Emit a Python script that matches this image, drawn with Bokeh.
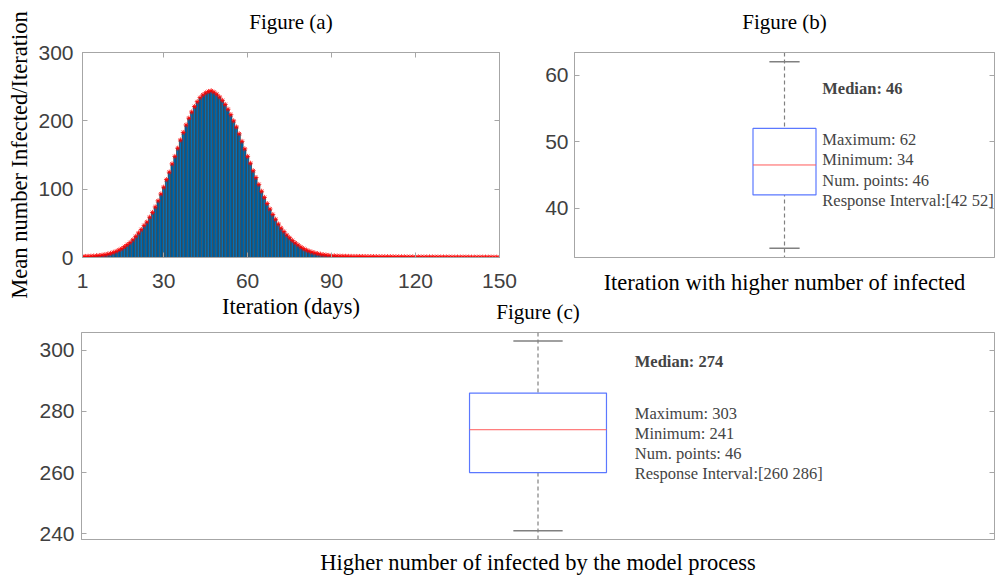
from bokeh.plotting import figure
from bokeh.layouts import column, row
from bokeh.models import (ColumnDataSource, Label, Span, LinearAxis, FixedTicker,
                          CustomJSTickFormatter, Range1d)
from bokeh.embed import file_html
from bokeh.resources import INLINE

# ---------------- data ----------------
days = list(range(1, 151))
mean_infected = [
    1.5, 1.6, 1.8, 2.0, 2.2, 2.6, 3.0, 3.5, 4.2, 5.0,
    6.0, 7.5, 9.0, 11, 13, 16, 19, 22, 26, 31,
    36, 41, 47, 52, 59, 66, 74, 83, 93, 103,
    114, 125, 137, 148, 160, 172, 183, 194, 204, 213,
    221, 228, 234, 238, 241, 243, 244, 242, 239, 235,
    230, 224, 217, 209, 200, 191, 181, 170, 159, 148,
    138, 127, 117, 107, 97, 88, 79, 71, 63, 56,
    49, 43, 38, 33, 29, 25, 21.5, 18.5, 15.5, 13,
    11, 9.3, 7.9, 6.7, 5.7, 4.9, 4.2, 3.6, 3.1, 2.7,
    2.4, 2.2, 2.0, 1.9, 1.8, 1.7, 1.7, 1.6, 1.6, 1.5,
    1.5, 1.5, 1.4, 1.4, 1.4, 1.3, 1.3, 1.3, 1.2, 1.2,
    1.2, 1.2, 1.1, 1.1, 1.1, 1.1, 1.0, 1.0, 1.0, 1.0,
    1.0, 0.9, 0.9, 0.9, 0.9, 0.9, 0.8, 0.8, 0.8, 0.8,
    0.8, 0.8, 0.7, 0.7, 0.7, 0.7, 0.7, 0.7, 0.7, 0.6,
    0.6, 0.6, 0.6, 0.6, 0.6, 0.6, 0.6, 0.5, 0.5, 0.5,
]
a_xticks = [1, 30, 60, 90, 120, 150]
a_yticks = [0, 100, 200, 300]

# Figure (b): iteration with the highest number infected
b_max, b_min, b_q1, b_q3 = 62, 34, 42, 52
b_median_line = 46.5
b_median_txt = 46
b_npoints = 46
b_yticks = [40, 50, 60]

# Figure (c): highest number of infected
c_max, c_min, c_q1, c_q3 = 303, 241, 260, 286
c_median_line = 274
c_median_txt = 274
c_npoints = 46
c_yticks = [240, 260, 280, 300]

SERIF = "Liberation Serif"
SANS = "Liberation Sans"
FRAME = "#a6a6a6"
TICKTXT = "#404040"
BOXBLUE = "#5b78ff"
MEDRED = "#ff5a5a"
WHISK = "#808080"

ROW_H = 329


def style_axes(p, tick_size="21px"):
    p.grid.grid_line_color = None
    p.outline_line_color = FRAME
    for ax in p.axis:
        ax.axis_line_color = FRAME
        ax.major_tick_line_color = FRAME
        ax.minor_tick_line_color = None
        ax.major_tick_in = 5
        ax.major_tick_out = 0
        ax.major_label_text_font = SANS
        ax.major_label_text_font_size = tick_size
        ax.major_label_text_color = TICKTXT
        ax.axis_label_text_font = SERIF
        ax.axis_label_text_font_size = "22.5px"
        ax.axis_label_text_font_style = "normal"
        ax.axis_label_text_color = "black"


def mirror(p, side, ticks, label=None):
    """Mirrored tick marks on the top/right edge (MATLAB box style);
    the top one also carries the panel caption."""
    ax = LinearAxis(ticker=FixedTicker(ticks=ticks),
                    formatter=CustomJSTickFormatter(code="return ''"))
    ax.axis_line_color = FRAME
    ax.major_tick_line_color = FRAME
    ax.minor_tick_line_color = None
    ax.major_tick_in = 5
    ax.major_tick_out = 0
    ax.major_label_standoff = 0
    ax.major_label_text_font_size = "0px"
    if label is not None:
        ax.axis_label = label
        ax.axis_label_text_font = SERIF
        ax.axis_label_text_font_size = "21px"
        ax.axis_label_text_font_style = "normal"
        ax.axis_label_text_color = "black"
        ax.axis_label_standoff = 19
    p.add_layout(ax, side)


# ---------------- Figure (a) ----------------
pa = figure(width=520, height=ROW_H, x_range=Range1d(1, 150), y_range=Range1d(0, 300),
            output_backend="svg", toolbar_location=None,
            min_border_left=82, min_border_right=21, min_border_top=52,
            min_border_bottom=ROW_H - 258)
src_a = ColumnDataSource(dict(day=days, val=mean_infected))
pa.vbar(x="day", top="val", width=0.8, bottom=0, source=src_a,
        fill_color="#0072BD", line_color="black", line_width=0.5)
pa.scatter(x="day", y="val", source=src_a, marker="asterisk", size=5,
           line_color="#ff0000", line_width=0.8)
pa.xaxis.ticker = FixedTicker(ticks=a_xticks)
pa.yaxis.ticker = FixedTicker(ticks=a_yticks)
pa.xaxis.axis_label = "Iteration (days)"
pa.yaxis.axis_label = "Mean number Infected/Iteration"
style_axes(pa, "21px")
pa.yaxis.axis_label_standoff = 3
pa.yaxis.major_label_standoff = 9
pa.xaxis.major_label_standoff = 16
pa.xaxis.axis_label_standoff = 3
mirror(pa, "above", a_xticks, "Figure (a)")
mirror(pa, "right", a_yticks)

# ---------------- Figure (b) ----------------
pb = figure(width=477, height=ROW_H, x_range=Range1d(0.5, 1.5), y_range=Range1d(32.6, 63.4),
            output_backend="svg", toolbar_location=None,
            min_border_left=54, min_border_right=3, min_border_top=51,
            min_border_bottom=ROW_H - 257)
span_b = Span(location=1, dimension="height", line_color=WHISK, line_dash="4 3", line_width=1.2)
span_b.level = "underlay"
pb.add_layout(span_b)
pb.quad(left=[1 - 0.075], right=[1 + 0.075], bottom=[b_q1], top=[b_q3],
        fill_color="white", line_color=BOXBLUE, line_width=1.2)
pb.segment(x0=[1 - 0.075], x1=[1 + 0.075], y0=[b_median_line], y1=[b_median_line],
           line_color=MEDRED, line_width=1)
pb.segment(x0=[1 - 0.036, 1 - 0.036], x1=[1 + 0.036, 1 + 0.036], y0=[b_max, b_min],
           y1=[b_max, b_min], line_color=WHISK, line_width=1.5)
pb.xaxis.ticker = FixedTicker(ticks=[])
pb.xaxis.axis_label = "Iteration with higher number of infected"
pb.yaxis.ticker = FixedTicker(ticks=b_yticks)
style_axes(pb, "21px")
pb.xaxis.axis_label_standoff = 12
pb.yaxis.major_label_standoff = 6
mirror(pb, "above", [], "Figure (b)")
mirror(pb, "right", b_yticks)

b_lines = [f"Maximum: {b_max}", f"Minimum: {b_min}", f"Num. points: {b_npoints}",
           f"Response Interval:[{b_q1} {b_q3}]"]
pb.add_layout(Label(x=1.09, y=57.98, text=f"Median: {b_median_txt}", text_font=SERIF,
                    text_font_size="16.5px", text_font_style="bold", text_baseline="middle"))
for txt, yy in zip(b_lines, [50.39, 47.26, 44.24, 41.22]):
    pb.add_layout(Label(x=1.09, y=yy, text=txt, text_font=SERIF, text_font_size="16.5px",
                        text_baseline="middle"))

# ---------------- Figure (c) ----------------
C_TOP = 286  # page y where the (c) canvas starts (it overlaps the transparent band)
pc = figure(width=997, height=577 - C_TOP, x_range=Range1d(0.5, 1.5),
            y_range=Range1d(238.1, 305.8),
            output_backend="svg", toolbar_location=None,
            min_border_left=81, min_border_right=3, min_border_top=332 - C_TOP,
            min_border_bottom=38, margin=(C_TOP - ROW_H, 0, 0, 0))
pc.border_fill_alpha = 0
span_c = Span(location=1, dimension="height", line_color=WHISK, line_dash="4 3", line_width=1.2)
span_c.level = "underlay"
pc.add_layout(span_c)
pc.quad(left=[1 - 0.075], right=[1 + 0.075], bottom=[c_q1], top=[c_q3],
        fill_color="white", line_color=BOXBLUE, line_width=1.2)
pc.segment(x0=[1 - 0.075], x1=[1 + 0.075], y0=[c_median_line], y1=[c_median_line],
           line_color=MEDRED, line_width=1)
pc.segment(x0=[1 - 0.027, 1 - 0.027], x1=[1 + 0.027, 1 + 0.027], y0=[c_max, c_min],
           y1=[c_max, c_min], line_color=WHISK, line_width=1.5)
pc.xaxis.ticker = FixedTicker(ticks=[])
pc.xaxis.axis_label = "Higher number of infected by the model process"
pc.yaxis.ticker = FixedTicker(ticks=c_yticks)
style_axes(pc, "21px")
pc.xaxis.axis_label_standoff = 10
pc.yaxis.major_label_standoff = 7
mirror(pc, "right", c_yticks)
pc.title.text = "Figure (c)"
pc.title.align = "center"
pc.title.text_font = SERIF
pc.title.text_font_size = "21px"
pc.title.text_font_style = "normal"
pc.title.text_color = "black"
pc.title.standoff = 18

c_lines = [f"Maximum: {c_max}", f"Minimum: {c_min}", f"Num. points: {c_npoints}",
           f"Response Interval:[{c_q1} {c_q3}]"]
pc.add_layout(Label(x=1.106, y=296.4, text=f"Median: {c_median_txt}", text_font=SERIF,
                    text_font_size="16.5px", text_font_style="bold", text_baseline="middle"))
for txt, yy in zip(c_lines, [279.25, 272.7, 266.1, 259.6]):
    pc.add_layout(Label(x=1.106, y=yy, text=txt, text_font=SERIF, text_font_size="16.5px",
                        text_baseline="middle"))

layout = column(row(pa, pb, spacing=0), pc, spacing=0)
open("out.html", "w").write(file_html(layout, INLINE))
